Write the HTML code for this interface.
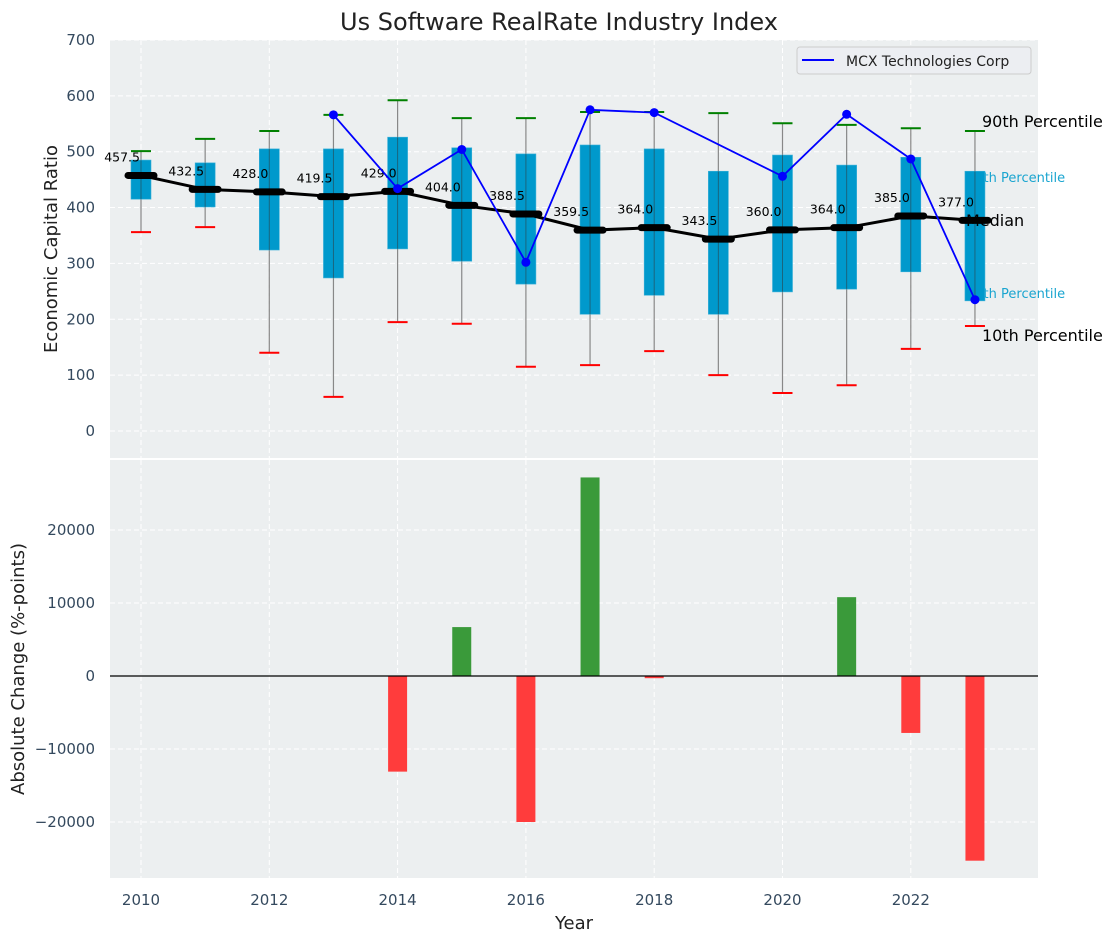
<!DOCTYPE html>
<html><head><meta charset="utf-8"><style>
body{margin:0;background:#fff}
svg{display:block;font-family:"DejaVu Sans","Liberation Sans",sans-serif}
</style></head><body>
<svg id="chart" width="1117" height="942" viewBox="0 0 1117 942" xmlns="http://www.w3.org/2000/svg"></svg>
<script>
const years=[2010,2011,2012,2013,2014,2015,2016,2017,2018,2019,2020,2021,2022,2023];
const medians=[457.5,432.5,428.0,419.5,429.0,404.0,388.5,359.5,364.0,343.5,360.0,364.0,385.0,377.0];
const q75=[485,480,505,505,526,507,496,512,505,465,494,476,490,465];
const q25=[415,401,324,274,326,304,263,209,243,209,249,254,285,233];
const p90=[501,523,537,566,592,560,560,571,571,569,551,548,542,537];
const p10=[356,365,140,61,195,192,115,118,143,100,68,82,147,188];
const mcxYears=[2013,2014,2015,2016,2017,2018,2020,2021,2022,2023];
const mcxValues=[566,434,504,302,575,570,456,567,487,235];
const changeYears=[2014,2015,2016,2017,2018,2021,2022,2023];
const changeValues=[-13100,6700,-20000,27200,-300,10800,-7800,-25300];
const topTicks=[0,100,200,300,400,500,600,700];
const botTicks=[-20000,-10000,0,10000,20000];
const xTicks=[2010,2012,2014,2016,2018,2020,2022];

const NS="http://www.w3.org/2000/svg";
const svg=document.getElementById('chart');
const L=110,R=1038,T1=40,B1=458,T2=460,B2=878;
const X=v=>141+(v-2010)*64.15;
const Y1=v=>431-v*0.5586;
const Y2=v=>676-v*0.00730;
function mk(tag,at,parent){const e=document.createElementNS(NS,tag);for(const k in at)e.setAttribute(k,at[k]);(parent||svg).appendChild(e);return e;}

let bg1=mk('rect',{x:L,y:T1,width:R-L,height:B1-T1,fill:'#eceff0'});


let bg2=mk('rect',{x:L,y:T2,width:R-L,height:B2-T2,fill:'#eceff0'});



xTicks.forEach(t=>{
  mk('line',{x1:X(t),x2:X(t),y1:T1,y2:B1,stroke:'#fff','stroke-dasharray':'5,3','stroke-width':1});
  mk('line',{x1:X(t),x2:X(t),y1:T2,y2:B2,stroke:'#fff','stroke-dasharray':'5,3','stroke-width':1});
  let tl=mk('text',{x:X(t),y:905,'text-anchor':'middle','font-size':15,fill:'#34495e'});tl.textContent=t;
  
  
});
topTicks.forEach(t=>{
  mk('line',{x1:L,x2:R,y1:Y1(t),y2:Y1(t),stroke:'#fff','stroke-dasharray':'5,3','stroke-width':1});
  let tl=mk('text',{x:95,y:Y1(t)+5,'text-anchor':'end','font-size':15,fill:'#34495e'});tl.textContent=t;
  
  
});
botTicks.forEach(t=>{
  mk('line',{x1:L,x2:R,y1:Y2(t),y2:Y2(t),stroke:'#fff','stroke-dasharray':'5,3','stroke-width':1});
  let tl=mk('text',{x:95,y:Y2(t)+5,'text-anchor':'end','font-size':15,fill:'#34495e'});tl.textContent=t<0?'\u2212'+(-t):t;
  
  
});

[['90th Percentile',982,127,16,'#000'],['75th Percentile',967,182,13,'#1aa5d0'],['25th Percentile',967,298,13,'#1aa5d0'],['10th Percentile',982,341,16,'#000']].forEach(a=>{
  let t=mk('text',{x:a[1],y:a[2],'font-size':a[3],fill:a[4]});t.textContent=a[0];
  
  
});

years.forEach((yr,i)=>{
  const x=X(yr);
  let w=mk('line',{x1:x,x2:x,y1:Y1(p90[i]),y2:Y1(p10[i]),stroke:'#888','stroke-width':1.2});
  
  
  let b=mk('rect',{x:x-10,y:Y1(q75[i]),width:20,height:Y1(q25[i])-Y1(q75[i]),fill:'#0099cc',stroke:'#3ab0d8','stroke-width':0.6});
  
  
  mk('line',{x1:x,x2:x,y1:Y1(q75[i]),y2:Y1(q25[i]),stroke:'#333','stroke-width':1,opacity:0.5});
  let c1=mk('line',{x1:x-10,x2:x+10,y1:Y1(p90[i]),y2:Y1(p90[i]),stroke:'green','stroke-width':2});
  
  
  let c2=mk('line',{x1:x-10,x2:x+10,y1:Y1(p10[i]),y2:Y1(p10[i]),stroke:'red','stroke-width':2});
  
  
});
let mp=mk('polyline',{points:years.map((y,i)=>X(y)+','+Y1(medians[i])).join(' '),fill:'none',stroke:'#000','stroke-width':3});


years.forEach((yr,i)=>{
  const x=X(yr),y=Y1(medians[i]);
  let m=mk('line',{x1:x-13,x2:x+13,y1:y,y2:y,stroke:'#000','stroke-width':7,'stroke-linecap':'round'});
  
  
  let t=mk('text',{x:x-1,y:y-14,'text-anchor':'end','font-size':12.5,fill:'#000'});t.textContent=medians[i].toFixed(1);
  
  
});
let mt=mk('text',{x:966,y:226,'font-size':16,fill:'#000'});mt.textContent='Median';



let ml=mk('polyline',{points:mcxYears.map((y,i)=>X(y)+','+Y1(mcxValues[i])).join(' '),fill:'none',stroke:'#0000ff','stroke-width':1.8});


mcxYears.forEach((yr,i)=>{
  let c=mk('circle',{cx:X(yr),cy:Y1(mcxValues[i]),r:4.5,fill:'#0000ff'});
  
  
});

let lg=mk('g',{});


mk('rect',{x:797,y:47,width:234,height:27,rx:3,fill:'#eceef2',stroke:'#ccc'},lg);
mk('line',{x1:802,x2:834,y1:60,y2:60,stroke:'#0000ff','stroke-width':2},lg);
let lt=mk('text',{x:846,y:66,'font-size':14,fill:'#222'},lg);lt.textContent='MCX Technologies Corp';

changeYears.forEach((yr,i)=>{
  const v=changeValues[i],y0=Y2(0),y=Y2(v);
  let r=mk('rect',{x:X(yr)-9.5,y:Math.min(y0,y),width:19,height:Math.max(1,Math.abs(y-y0)),fill:v>=0?'#3a9a3a':'#ff3c3c'});
  
  
});
mk('line',{x1:L,x2:R,y1:Y2(0),y2:Y2(0),stroke:'#000','stroke-width':1.2});

let tt=mk('text',{x:559,y:30,'text-anchor':'middle','font-size':24,fill:'#222'});tt.textContent='Us Software RealRate Industry Index';


let yt1=mk('text',{x:0,y:0,'text-anchor':'middle','font-size':18,fill:'#222',transform:'translate(57,249) rotate(-90)'});yt1.textContent='Economic Capital Ratio';


let yt2=mk('text',{x:0,y:0,'text-anchor':'middle','font-size':18,fill:'#222',transform:'translate(24,669) rotate(-90)'});yt2.textContent='Absolute Change (%-points)';


let xt=mk('text',{x:574,y:929,'text-anchor':'middle','font-size':18,fill:'#222'});xt.textContent='Year';


</script>
</body></html>
